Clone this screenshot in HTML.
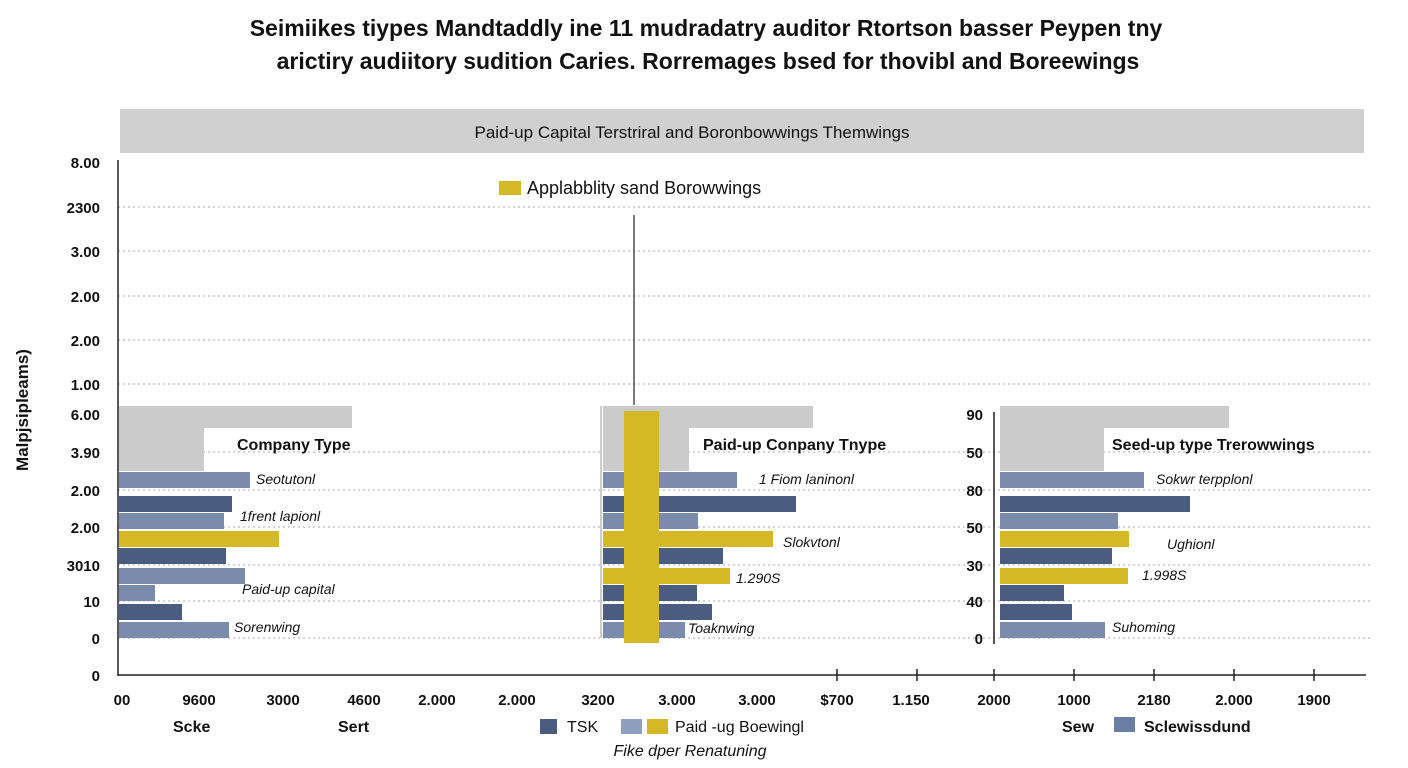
<!DOCTYPE html>
<html><head><meta charset="utf-8"><style>
html,body{margin:0;padding:0;background:#fff}
svg{display:block;font-family:"Liberation Sans",Arial,sans-serif}
</style></head><body>
<svg width="1408" height="768" viewBox="0 0 1408 768" xmlns="http://www.w3.org/2000/svg">
<rect width="1408" height="768" fill="#fff"/>
<g font-weight="bold" font-size="23" fill="#111" text-anchor="middle">
<text x="706" y="36">Seimiikes tiypes Mandtaddly ine 11 mudradatry auditor Rtortson basser Peypen tny</text>
<text x="708" y="69">arictiry audiitory sudition Caries. Rorremages bsed for thovibl and Boreewings</text>
</g>
<rect x="120" y="109" width="1244" height="44" fill="#d0d0d0"/>
<text x="692" y="138" text-anchor="middle" font-size="17" fill="#111">Paid-up Capital Terstriral and Boronbowwings Themwings</text>
<g stroke="#aaa" stroke-dasharray="2,3" stroke-width="1">
<line x1="118" x2="1370" y1="207" y2="207"/><line x1="118" x2="1370" y1="251" y2="251"/>
<line x1="118" x2="1370" y1="296" y2="296"/><line x1="118" x2="1370" y1="340" y2="340"/>
<line x1="118" x2="1370" y1="384" y2="384"/>
<line x1="118" x2="1370" y1="452" y2="452"/><line x1="118" x2="1370" y1="490" y2="490"/>
<line x1="118" x2="1370" y1="527" y2="527"/><line x1="118" x2="1370" y1="565" y2="565"/>
<line x1="118" x2="1370" y1="601" y2="601"/><line x1="118" x2="1370" y1="638" y2="638"/>
</g>
<g font-weight="bold" font-size="15" fill="#111" text-anchor="end">
<text x="100" y="168">8.00</text><text x="100" y="213">2300</text><text x="100" y="257">3.00</text>
<text x="100" y="302">2.00</text><text x="100" y="346">2.00</text><text x="100" y="390">1.00</text>
<text x="100" y="420">6.00</text><text x="100" y="458">3.90</text><text x="100" y="496">2.00</text>
<text x="100" y="533">2.00</text><text x="100" y="571">3010</text><text x="100" y="607">10</text>
<text x="100" y="644">0</text><text x="100" y="681">0</text>
<text x="983" y="420">90</text><text x="983" y="458">50</text><text x="983" y="496">80</text>
<text x="983" y="533">50</text><text x="983" y="571">30</text><text x="983" y="607">40</text><text x="983" y="644">0</text>
</g>
<line x1="118" y1="160" x2="118" y2="676" stroke="#222" stroke-width="1.5"/>
<line x1="118" y1="675" x2="1366" y2="675" stroke="#222" stroke-width="1.5"/>
<line x1="994" y1="412" x2="994" y2="644" stroke="#222" stroke-width="1.5"/>
<line x1="601" y1="406" x2="601" y2="638" stroke="#bbb" stroke-width="1.5"/>
<g stroke="#222" stroke-width="1.5">
<line x1="837" x2="837" y1="669" y2="681"/><line x1="917" x2="917" y1="669" y2="681"/>
<line x1="994" x2="994" y1="669" y2="681"/><line x1="1074" x2="1074" y1="669" y2="681"/>
<line x1="1154" x2="1154" y1="669" y2="681"/><line x1="1234" x2="1234" y1="669" y2="681"/>
<line x1="1314" x2="1314" y1="669" y2="681"/>
</g>
<g font-weight="bold" font-size="15" fill="#111" text-anchor="middle">
<text x="122" y="705">00</text><text x="199" y="705">9600</text><text x="283" y="705">3000</text>
<text x="364" y="705">4600</text><text x="437" y="705">2.000</text><text x="517" y="705">2.000</text>
<text x="598" y="705">3200</text><text x="677" y="705">3.000</text><text x="757" y="705">3.000</text>
<text x="837" y="705">$700</text><text x="911" y="705">1.150</text><text x="994" y="705">2000</text>
<text x="1074" y="705">1000</text><text x="1154" y="705">2180</text><text x="1234" y="705">2.000</text>
<text x="1314" y="705">1900</text>
</g>
<rect x="499" y="181" width="22" height="14" fill="#d4b826"/>
<text x="527" y="194" font-size="18" fill="#111">Applabblity sand Borowwings</text>
<line x1="634" y1="215" x2="634" y2="405" stroke="#222" stroke-width="1.2"/>
<!-- gray blocks -->
<g fill="#cbcbcb">
<path d="M119 406H352V428H204V471H119Z"/>
<path d="M603 406H813V428H689V471H603Z"/>
<path d="M1000 406H1229V428H1104V471H1000Z"/>
</g>
<g font-weight="bold" font-size="16" fill="#111">
<text x="237" y="450">Company Type</text>
<text x="703" y="450">Paid-up Conpany Tnype</text>
<text x="1112" y="450">Seed-up type Trerowwings</text>
</g>
<!-- panel 1 -->
<g>
<rect x="119" y="472" width="131" height="16" fill="#7a8bab"/>
<rect x="119" y="496" width="113" height="16" fill="#4a5d80"/>
<rect x="119" y="513" width="105" height="16" fill="#7a8bab"/>
<rect x="119" y="531" width="160" height="16" fill="#d4b826"/>
<rect x="119" y="548" width="107" height="16" fill="#4a5d80"/>
<rect x="119" y="568" width="126" height="16" fill="#7a8bab"/>
<rect x="119" y="585" width="36" height="16" fill="#7a8bab"/>
<rect x="119" y="604" width="63" height="16" fill="#4a5d80"/>
<rect x="119" y="622" width="110" height="16" fill="#7a8bab"/>
</g>
<!-- panel 2 -->
<g>
<rect x="603" y="472" width="134" height="16" fill="#7a8bab"/>
<rect x="603" y="496" width="193" height="16" fill="#4a5d80"/>
<rect x="603" y="513" width="95" height="16" fill="#7a8bab"/>
<rect x="603" y="531" width="170" height="16" fill="#d4b826"/>
<rect x="603" y="548" width="120" height="16" fill="#4a5d80"/>
<rect x="603" y="568" width="127" height="16" fill="#d4b826"/>
<rect x="603" y="585" width="94" height="16" fill="#4a5d80"/>
<rect x="603" y="604" width="109" height="16" fill="#4a5d80"/>
<rect x="603" y="622" width="82" height="16" fill="#7a8bab"/>
<rect x="624" y="411" width="35" height="232" fill="#d4b826"/>
</g>
<!-- panel 3 -->
<g>
<rect x="1000" y="472" width="144" height="16" fill="#7a8bab"/>
<rect x="1000" y="496" width="190" height="16" fill="#4a5d80"/>
<rect x="1000" y="513" width="118" height="16" fill="#7a8bab"/>
<rect x="1000" y="531" width="129" height="16" fill="#d4b826"/>
<rect x="1000" y="548" width="112" height="16" fill="#4a5d80"/>
<rect x="1000" y="568" width="128" height="16" fill="#d4b826"/>
<rect x="1000" y="585" width="64" height="16" fill="#4a5d80"/>
<rect x="1000" y="604" width="72" height="16" fill="#4a5d80"/>
<rect x="1000" y="622" width="105" height="16" fill="#7a8bab"/>
</g>
<g font-style="italic" font-size="14" fill="#111">
<text x="256" y="484">Seotutonl</text>
<text x="240" y="521">1frent lapionl</text>
<text x="242" y="594">Paid-up capital</text>
<text x="234" y="632">Sorenwing</text>
<text x="759" y="484">1 Fiom laninonl</text>
<text x="783" y="547">Slokvtonl</text>
<text x="736" y="583">1.290S</text>
<text x="688" y="633">Toaknwing</text>
<text x="1156" y="484">Sokwr terpplonl</text>
<text x="1167" y="549">Ughionl</text>
<text x="1142" y="580">1.998S</text>
<text x="1112" y="632">Suhoming</text>
</g>
<g font-weight="bold" font-size="16" fill="#111">
<text x="173" y="732">Scke</text>
<text x="338" y="732">Sert</text>
<text x="1062" y="732">Sew</text>
</g>
<rect x="540" y="719" width="17" height="15" fill="#4a5d80"/>
<text x="567" y="732" font-size="16" fill="#111">TSK</text>
<rect x="621" y="719" width="21" height="15" fill="#8fa0bf"/>
<rect x="647" y="719" width="21" height="15" fill="#d4b826"/>
<text x="675" y="732" font-size="16" fill="#111">Paid -ug Boewingl</text>
<rect x="1114" y="717" width="21" height="15" fill="#6b7fa3"/>
<text x="1144" y="732" font-size="16" font-weight="bold" fill="#111">Sclewissdund</text>
<text x="690" y="756" text-anchor="middle" font-style="italic" font-size="16" fill="#111">Fike dper Renatuning</text>
<text transform="translate(28,410) rotate(-90)" text-anchor="middle" font-weight="bold" font-size="17" fill="#111">Malpjsipleams)</text>
</svg>
</body></html>
